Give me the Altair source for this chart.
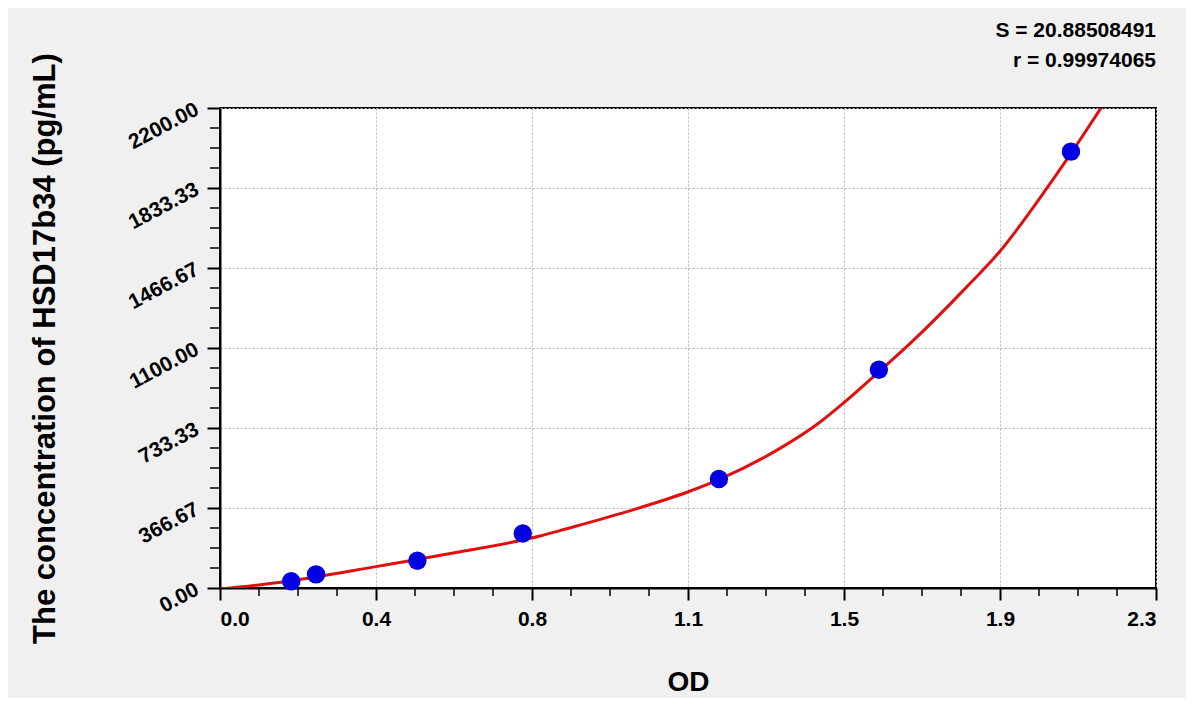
import altair as alt
import pandas as pd

# Standard points (OD, concentration pg/mL)
od = [0.175, 0.236, 0.485, 0.744, 1.226, 1.619, 2.091]
conc = [31.25, 62.5, 125, 250, 500, 1000, 2000]

# Fitted curve
curve_od = [0.0, 0.139, 0.383, 0.590, 0.786, 0.835, 1.000, 1.149, 1.227, 1.376, 1.474,
            1.532, 1.620, 1.696, 1.835, 1.915, 2.031, 2.091, 2.168]
curve_conc = [-5, 24, 98, 166, 238, 263, 350, 440, 498, 640, 760,
              848, 993, 1121, 1380, 1540, 1830, 1992, 2209]

# Axis ticks
x_major = [0.0, 0.383333, 0.766667, 1.15, 1.533333, 1.916667, 2.3]
y_major = [0.0, 366.666667, 733.333333, 1100.0, 1466.666667, 1833.333333, 2200.0]
x_minor = [0.095833, 0.191667, 0.2875, 0.479167, 0.575, 0.670833, 0.8625, 0.958333, 1.054167,
           1.245833, 1.341667, 1.4375, 1.629167, 1.725, 1.820833, 2.0125, 2.108333, 2.204167]
y_minor = [91.666667, 183.333333, 275.0, 458.333333, 550.0, 641.666667, 825.0, 916.666667,
           1008.333333, 1191.666667, 1283.333333, 1375.0, 1558.333333, 1650.0, 1741.666667,
           1925.0, 2016.666667, 2108.333333]

FONT = "Liberation Sans"
W, H = 936, 480

pts = pd.DataFrame({"od": od, "conc": conc})
crv = pd.DataFrame({"od": curve_od, "conc": curve_conc})
xm = pd.DataFrame({"v": x_minor})
ym = pd.DataFrame({"v": y_minor})

xscale = alt.Scale(domain=[0, 2.3], nice=False, zero=False)
yscale = alt.Scale(domain=[0, 2200], nice=False, zero=False)

xaxis = alt.Axis(
    values=x_major, labelExpr="format(datum.value, '.1f')",
    title="OD", titleFontSize=28, titleFont=FONT, titleFontWeight="bold",
    titleX=W / 2, titleY=94, titleBaseline="middle", titleAlign="center",
    labelFont=FONT, labelFontSize=21, labelFontWeight="bold", labelColor="black",
    labelPadding=8, tickSize=12, tickWidth=2, tickColor="black",
    domainColor="black", domainWidth=2,
    grid=True, gridColor="#b8b8b8", gridDash=[2, 2], gridWidth=1,
)
yaxis = alt.Axis(
    values=y_major, labelExpr="format(datum.value, '.2f')",
    title="The concentration of HSD17b34 (pg/mL)", titleFontSize=31, titleFont=FONT,
    titleFontWeight="bold", titleX=-175, titleY=H / 2, titleBaseline="middle",
    titleAlign="center", titleAngle=270,
    labelFont=FONT, labelFontSize=21, labelFontWeight="bold", labelColor="black",
    labelAngle=332, labelAlign="right", labelBaseline="middle", labelPadding=10,
    tickSize=13, tickWidth=2, tickColor="black",
    domainColor="black", domainWidth=2,
    grid=True, gridColor="#b8b8b8", gridDash=[2, 2], gridWidth=1,
)

line = alt.Chart(crv).mark_line(color="#e01010", strokeWidth=3, clip=True,
                                interpolate="monotone").encode(
    x=alt.X("od:Q", scale=xscale, axis=xaxis),
    y=alt.Y("conc:Q", scale=yscale, axis=yaxis),
    order=alt.Order("od:Q"),
)
points = alt.Chart(pts).mark_circle(size=340, color="#0000e0", opacity=1).encode(
    x=alt.X("od:Q", scale=xscale),
    y=alt.Y("conc:Q", scale=yscale),
)
xminor = alt.Chart(xm).mark_rule(color="black", strokeWidth=1.5).encode(
    x=alt.X("v:Q", scale=xscale),
    y=alt.value(H), y2=alt.value(H + 8),
)
yminor = alt.Chart(ym).mark_rule(color="black", strokeWidth=1.5).encode(
    y=alt.Y("v:Q", scale=yscale),
    x=alt.value(-10), x2=alt.value(0),
)

chart = alt.layer(xminor, yminor, line, points).properties(
    width=W, height=H,
    autosize=alt.AutoSizeParams(type="none"),
    padding={"left": 212, "top": 100, "right": 30, "bottom": 110},
    title=alt.TitleParams(
        text=["S = 20.88508491", "r = 0.99974065"], anchor="end", align="right",
        frame="group", fontSize=21, fontWeight="bold", font=FONT, color="black",
        lineHeight=30, offset=22, dy=40,
    ),
).configure(background="#f0f0f0").configure_view(fill="white", stroke="black", strokeWidth=2)

chart.save("out.html", embed_options={"renderer": "svg", "actions": False})
